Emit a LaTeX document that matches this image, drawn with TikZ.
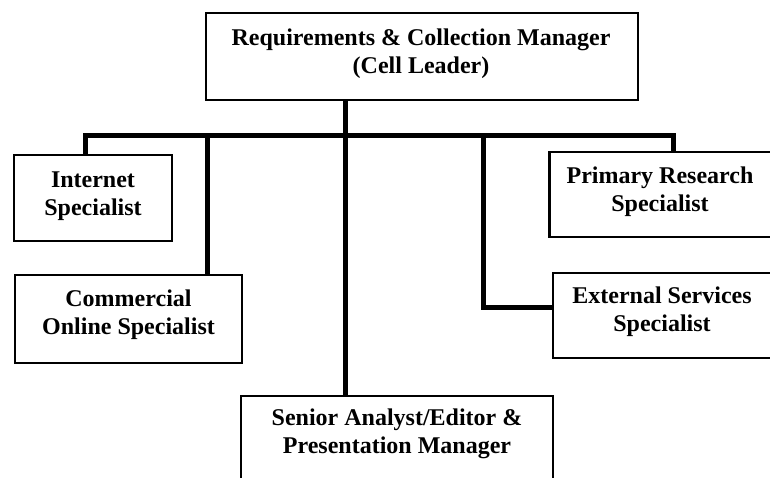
\documentclass[tikz,border=0pt]{standalone}
\usepackage{fontspec}
\setmainfont{Liberation Serif}
\usetikzlibrary{positioning,calc}

\begin{document}
\begin{tikzpicture}[x=1pt, y=-1pt,
    unit/.style={rectangle, draw, line width=2.2pt, inner sep=0pt},
    title/.style={align=center, inner sep=0pt,
        font=\fontsize{24}{28}\selectfont\bfseries},
    link/.style={draw, line width=5pt}]

    \useasboundingbox (0,0) rectangle (770,477);

    % ====== Cell Leader ======
    \node [unit, minimum width=432pt, minimum height=87pt] (lead) at (422,56.5) {};
    \node [title] (leadText) at (421,54)
        {Requirements \& Collection Manager\\(Cell Leader)};

    % ====== Left side ======
    \node [unit, minimum width=158pt, minimum height=86pt] (internet) at (93,198) {};
    \node [title] (internetText) at (93,196) {Internet\\Specialist};

    \node [unit, minimum width=227pt, minimum height=88pt] (online) at (128.5,319) {};
    \node [title] (onlineText) at (128.5,315) {Commercial\\Online Specialist};

    % ====== Right side ======
    \node [unit, minimum width=225pt, minimum height=85pt] (primary) at (662,194.5) {};
    \node [title] (primaryText) at (660,192) {Primary Research\\Specialist};

    \node [unit, minimum width=222pt, minimum height=85pt] (external) at (664,315.5) {};
    \node [title] (externalText) at (662,312) {External Services\\Specialist};

    % ====== Bottom ======
    \node [unit, minimum width=312pt, minimum height=110pt] (senior) at (397,451) {};
    \node [title] (seniorText) at (397,434)
        {Senior Analyst/Editor \&\\Presentation Manager};

    % ====== Tap points on the bar ======
    \coordinate (spine) at (345,135);
    \coordinate (tapA)  at (85,135);
    \coordinate (tapB)  at (207,135);
    \coordinate (tapC)  at (483,135);
    \coordinate (tapD)  at (673,135);
    \coordinate (bend)  at (483,307);

    % ====== Lines ======
    \path [link] (lead.south -| spine) -- (senior.north -| spine);
    \path [link] (internet.north -| tapA) |- (spine) -| (primary.north -| tapD);
    \path [link] (tapB) -- (online.north -| tapB);
    \path [link] (tapC) -- (bend) -- (external.west |- bend);
\end{tikzpicture}
\end{document}
